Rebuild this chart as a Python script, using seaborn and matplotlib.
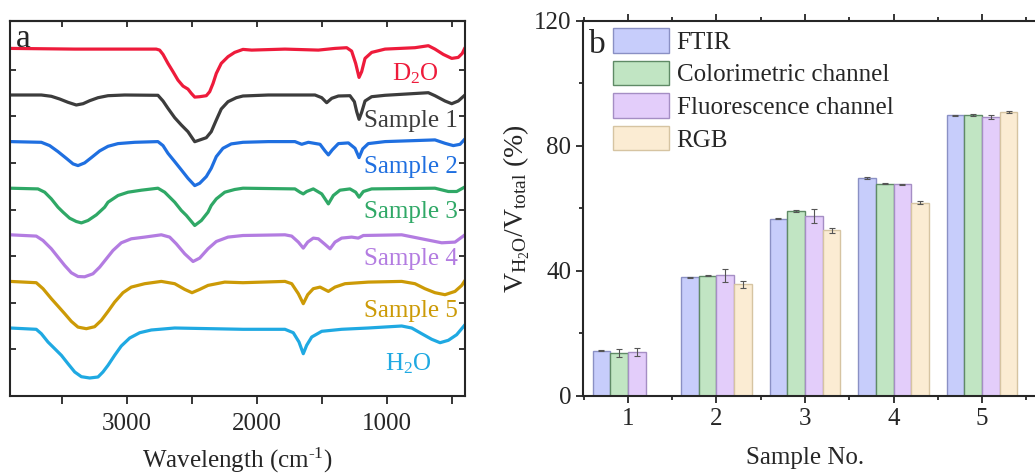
import numpy as np
import pandas as pd
import matplotlib
matplotlib.use("Agg")
import matplotlib.pyplot as plt
import matplotlib.patches as mpatches
from matplotlib.ticker import FixedLocator, MultipleLocator
import seaborn as sns

# ---------------- FTIR spectra (wavenumber in cm-1, signal relative to baseline, a.u.) ----------------
wn_d2o = [3900, 3402, 2775, 2749, 2723, 2685, 2646, 2608, 2569, 2531, 2505, 2479, 2441, 2390, 2364, 2338,
          2313, 2275, 2223, 2172, 2108, 2041, 1785, 1528, 1400, 1310, 1272, 1241, 1215, 1195, 1169, 1118,
          1015, 785, 682, 631, 567, 502, 452, 421, 400]
sig_d2o = [0, -0.7, -0.7, -1.7, -6, -15, -23.3, -31.7, -37.7, -40.7, -45, -48.7, -48.3, -47.3, -43.3, -35,
           -25, -15, -8.3, -4, -1, -1.7, -0.7, -1.7, 0, 0.7, -2.7, -15, -29, -23.3, -10, -4,
           -0.7, 0.7, 2.7, -0.7, -6, -10, -9, -5, 0.7]

wn_s1 = [3900, 3659, 3582, 3518, 3454, 3390, 3338, 3287, 3223, 3146, 3018, 2762, 2723, 2685, 2633, 2582,
         2531, 2479, 2441, 2390, 2352, 2313, 2275, 2223, 2159, 2108, 1913, 1554, 1502, 1464, 1425, 1374,
         1285, 1251, 1233, 1215, 1195, 1169, 1118, 1015, 682, 631, 554, 502, 452, 400]
sig_s1 = [0, 0, -1.3, -4, -7.3, -10, -8.7, -5.7, -2.7, -0.7, 0, -0.3, -6, -13.3, -22.7, -30,
          -36.7, -46.7, -45, -42.7, -36.7, -25, -14, -6.7, -2.7, -1, 0, 0, -2.7, -7.7, -3.3, -1,
          -0.7, -6.7, -16.7, -24.3, -17.3, -6, -1.7, -0.3, 2.3, -0.7, -6, -8.7, -6, 0]

wn_s2 = [3900, 3659, 3595, 3531, 3467, 3415, 3377, 3326, 3274, 3210, 3146, 3069, 2941, 2762, 2723, 2685,
         2633, 2582, 2531, 2479, 2441, 2390, 2352, 2313, 2262, 2198, 2108, 1913, 1708, 1656, 1605, 1515,
         1477, 1451, 1421, 1374, 1297, 1246, 1215, 1187, 1144, 1015, 631, 554, 490, 438, 400]
sig_s2 = [0, -0.7, -4, -10, -16.7, -22.3, -24, -21.3, -16, -9.3, -4.7, -2, -0.7, 0, -4, -11.7,
          -20, -28.3, -36.7, -44, -41.7, -35, -26.7, -15, -6.7, -2.3, -0.7, 0, 0, -2.7, -0.7, -2.7,
          -9.3, -13.3, -8.3, -2, -1.3, -6.7, -16, -7.3, -2, 0, 1.7, -1.7, -4, -2.7, 2.7]

wn_s3 = [3900, 3685, 3633, 3582, 3531, 3492, 3441, 3390, 3351, 3300, 3236, 3172, 3146, 3069, 2992, 2890,
         2762, 2710, 2633, 2582, 2543, 2479, 2428, 2377, 2352, 2313, 2248, 2172, 2108, 1708, 1669, 1644,
         1618, 1567, 1502, 1451, 1413, 1362, 1285, 1241, 1215, 1182, 1118, 631, 528, 464, 400]
sig_s3 = [0, -0.7, -4, -10.7, -19, -24, -30, -33.3, -34.7, -32.3, -26.7, -19, -14, -7.3, -4, -2,
          0, -4, -14, -22.3, -27.3, -37.3, -32.3, -24, -17.3, -10.7, -4, -1.3, 0, -0.7, -4, -5.7,
          -3.3, -0.7, -5.7, -15.7, -7.3, -2, -0.7, -4, -9, -3.3, -0.7, 0, -3.3, -3.3, 1.3]

wn_s4 = [3900, 3698, 3646, 3582, 3531, 3479, 3428, 3377, 3326, 3262, 3210, 3159, 3108, 3044, 2967, 2864,
         2736, 2672, 2621, 2556, 2492, 2441, 2377, 2313, 2223, 2108, 1785, 1733, 1682, 1644, 1610, 1567,
         1528, 1482, 1438, 1400, 1349, 1272, 1221, 1182, 887, 733, 579, 477, 400]
sig_s4 = [0, -1.3, -5.7, -14, -22.3, -30.7, -38, -41.7, -42, -39, -32.3, -24, -15.7, -8, -4, -2.3,
          0, -2.3, -9, -19, -26.7, -23.3, -14, -6.7, -2.3, -0.7, 0, -1.3, -7.3, -13.3, -7.3, -3.3,
          -4, -9, -14, -7.3, -3.3, -2.3, -3.3, -0.7, 0, -4, -8, -7.3, 0]

wn_s5 = [3900, 3698, 3646, 3582, 3531, 3479, 3428, 3377, 3313, 3249, 3198, 3146, 3095, 3031, 2967, 2864,
         2736, 2633, 2556, 2500, 2441, 2377, 2248, 2108, 1785, 1733, 1682, 1644, 1610, 1567, 1515, 1451,
         1400, 1323, 1144, 887, 785, 708, 631, 554, 477, 425, 400]
sig_s5 = [0, -1.3, -7.3, -17.3, -24.7, -32.3, -40, -45.7, -47.3, -45.3, -39, -30, -20.7, -11.3, -5.7, -2.3,
          0, -2.3, -8, -11.3, -8, -4, -0.7, -1.3, 0, -2.3, -12.3, -22.3, -13.3, -7.3, -5.7, -10,
          -5.7, -2.3, -0.7, 0, -2.3, -7.3, -11.3, -13.3, -10, -4, 1]

wn_h2o = [3900, 3698, 3659, 3608, 3556, 3505, 3454, 3402, 3351, 3287, 3223, 3185, 3146, 3095, 3044, 2979,
          2902, 2813, 2633, 2108, 1785, 1721, 1677, 1644, 1618, 1579, 1502, 1349, 1144, 887, 810, 733,
          656, 592, 528, 464, 400]
sig_h2o = [0, -1.3, -5.7, -14, -20.7, -27.3, -35.7, -44, -48.7, -50, -49, -44, -37.3, -27.3, -18, -10,
           -4.7, -2, 0, -1.3, -1.3, -4.7, -14, -25.7, -17.3, -9, -3.3, -1.3, 0, 2, 0, -5.7,
           -11.3, -14.7, -12.3, -6.7, 3.3]

spectrum_names = ["D2O", "Sample 1", "Sample 2", "Sample 3", "Sample 4", "Sample 5", "H2O"]
spectrum_labels = [r"D$_\mathregular{2}$O", "Sample 1", "Sample 2", "Sample 3", "Sample 4", "Sample 5",
                   r"H$_\mathregular{2}$O"]
spectrum_wn = [wn_d2o, wn_s1, wn_s2, wn_s3, wn_s4, wn_s5, wn_h2o]
spectrum_sig = [sig_d2o, sig_s1, sig_s2, sig_s3, sig_s4, sig_s5, sig_h2o]

# ---------------- Water fraction estimates ----------------
sample_no = ["1", "2", "3", "4", "5"]
methods = ["FTIR", "Colorimetric channel", "Fluorescence channel", "RGB"]
ftir = [14.4, 37.9, 56.6, 69.6, 89.7]
ftir_err = [0.2, 0.2, 0.2, 0.3, 0.2]
colorimetric = [13.6, 38.4, 59.0, 67.8, 89.8]
colorimetric_err = [1.2, 0.15, 0.3, 0.2, 0.2]
fluorescence = [14.0, 38.5, 57.5, 67.7, 89.1]
fluorescence_err = [1.4, 2.0, 2.1, 0.2, 0.7]
rgb = [np.nan, 35.6, 53.0, 61.8, 90.9]
rgb_err = [np.nan, 1.0, 0.8, 0.4, 0.3]

# ---------------- styling ----------------
sns.set_theme(style="ticks")
plt.rcParams["font.family"] = ["Liberation Serif", "DejaVu Serif"]
plt.rcParams["mathtext.fontset"] = "custom"
plt.rcParams["mathtext.rm"] = "Liberation Serif"
plt.rcParams["mathtext.it"] = "Liberation Serif:italic"
plt.rcParams["mathtext.bf"] = "Liberation Serif:bold"
plt.rcParams["axes.linewidth"] = 1.5

FS = 18
line_colors = ["#EE1B3B", "#3C3C3C", "#1F6FE0", "#2FA866", "#B37CE1", "#CC9A06", "#1FA9E2"]
bar_fill = ["#C7CDFB", "#C1E5C3", "#E3CDFA", "#FBECD3"]
bar_edge = ["#8A90C4", "#5F8A66", "#A58EC4", "#D6C4A2"]

W, H = 1035, 473
fig = plt.figure(figsize=(W / 100, H / 100), dpi=100)

def px_box(left, top, right, bottom):
    return [left / W, (H - bottom) / H, (right - left) / W, (bottom - top) / H]

# ================= panel a =================
ax = fig.add_axes(px_box(10, 21, 465, 396))
step = 46.6
base0 = 68.0
rows = []
n = len(spectrum_names)
for i, (name, wn, sig) in enumerate(zip(spectrum_names, spectrum_wn, spectrum_sig)):
    off = base0 + step * (n - 1 - i)
    for x, s in zip(wn, sig):
        rows.append({"wn": x, "signal": s + off, "name": name})
spec = pd.DataFrame(rows)
sns.lineplot(data=spec, x="wn", y="signal", hue="name", hue_order=spectrum_names,
             palette=line_colors, estimator=None, sort=False, linewidth=2.3,
             legend=False, ax=ax)
for ln in ax.lines:
    ln.set_solid_joinstyle("round")
    ln.set_solid_capstyle("round")

ax.set_xlim(3900, 400)
ax.set_ylim(0, 375)
ax.xaxis.set_major_locator(FixedLocator([3000, 2000, 1000]))
ax.xaxis.set_minor_locator(FixedLocator([3500, 2500, 1500, 500]))
ax.yaxis.set_major_locator(FixedLocator([step * k for k in range(1, 8)]))
ax.set_yticklabels([])
ax.tick_params(axis="x", which="major", direction="out", length=6, width=1.3,
               labelsize=FS, pad=6, bottom=True, top=False)
ax.tick_params(axis="x", which="minor", direction="out", length=6, width=1.3, bottom=True, top=False)
ax.tick_params(axis="y", which="major", direction="in", length=4, width=1.3, left=True, right=True)
ax.set_xticklabels(["3000", "2000", "1000"])
top = ax.secondary_xaxis("top")
top.xaxis.set_major_locator(FixedLocator([3000, 2000, 1000]))
top.xaxis.set_minor_locator(FixedLocator([3500, 2500, 1500, 500]))
top.tick_params(axis="x", which="both", direction="in", length=4, width=1.3, labeltop=False)
top.spines["top"].set_linewidth(1.5)
ax.set_xlabel(r"Wavelength (cm$^{\text{-1}}$)", fontsize=FS, labelpad=8)
ax.set_ylabel("")

label_x = [605, 458, 458, 458, 458, 458, 656]
label_y = [316, 269.3, 222.7, 177.7, 131, 79.3, 26]
for lab, c, lx, ly in zip(spectrum_labels, line_colors, label_x, label_y):
    ax.text(lx, ly, lab, color=c, fontsize=FS, ha="right", va="baseline")
ax.text(0.012, 0.93, "a", transform=ax.transAxes, fontsize=24, ha="left", va="baseline")

# ================= panel b =================
bx = fig.add_axes(px_box(583, 20.7, 1040, 395.7))
vals = [ftir, colorimetric, fluorescence, rgb]
errs = [ftir_err, colorimetric_err, fluorescence_err, rgb_err]
brows = []
for m, v in zip(methods, vals):
    for s, y in zip(sample_no, v):
        if not np.isnan(y):
            brows.append({"Sample": s, "Method": m, "Value": y})
bars = pd.DataFrame(brows)
sns.barplot(data=bars, x="Sample", y="Value", hue="Method", order=sample_no, hue_order=methods,
            palette=bar_fill, saturation=1, width=0.8, errorbar=None, linewidth=1.0,
            legend=False, ax=bx)
for cont, ec, m_err in zip(bx.containers, bar_edge, errs):
    xs, hs, es = [], [], []
    for p in cont:
        p.set_edgecolor(ec)
        h = p.get_height()
        if np.isnan(h) or h == 0:
            continue
        xc = p.get_x() + p.get_width() / 2
        xs.append(xc)
        hs.append(h)
        es.append(m_err[int(round(xc))])
    bx.errorbar(xs, hs, yerr=es, fmt="none", ecolor="#555555", elinewidth=0.8,
                capsize=2.5, capthick=0.8, zorder=5)

bx.set_ylim(0, 120)
bx.set_xlim(-0.508, 4.655)
bx.yaxis.set_major_locator(MultipleLocator(40))
bx.yaxis.set_minor_locator(MultipleLocator(20))
bx.xaxis.set_minor_locator(FixedLocator([-0.5, 0.5, 1.5, 2.5, 3.5, 4.5]))
bx.tick_params(axis="both", which="major", direction="out", length=5, width=1.3, labelsize=FS)
bx.tick_params(axis="both", which="minor", direction="out", length=3, width=1.3)
bx.tick_params(axis="x", which="both", top=True)
bx.tick_params(axis="y", which="both", right=False)
bx.spines["right"].set_visible(False)
bx.set_xlabel("Sample No.", fontsize=FS)
bx.xaxis.set_label_coords(0.485, -0.137)
bx.set_ylabel(r"$\mathregular{V_{H_2O}/V_{total}}$ (%)", fontsize=20, labelpad=1)

handles = [mpatches.Patch(facecolor=f, edgecolor=e, linewidth=1.0) for f, e in zip(bar_fill, bar_edge)]
bx.legend(handles, methods, loc="upper left", bbox_to_anchor=(0.066, 0.98), frameon=False,
          fontsize=FS, handlelength=2.24, handleheight=1.12, handletextpad=0.3,
          labelspacing=0.28, borderpad=0, borderaxespad=0)
bx.text(0.013, 0.915, "b", transform=bx.transAxes, fontsize=24, ha="left", va="baseline")

fig.savefig("out.png", dpi=100)
